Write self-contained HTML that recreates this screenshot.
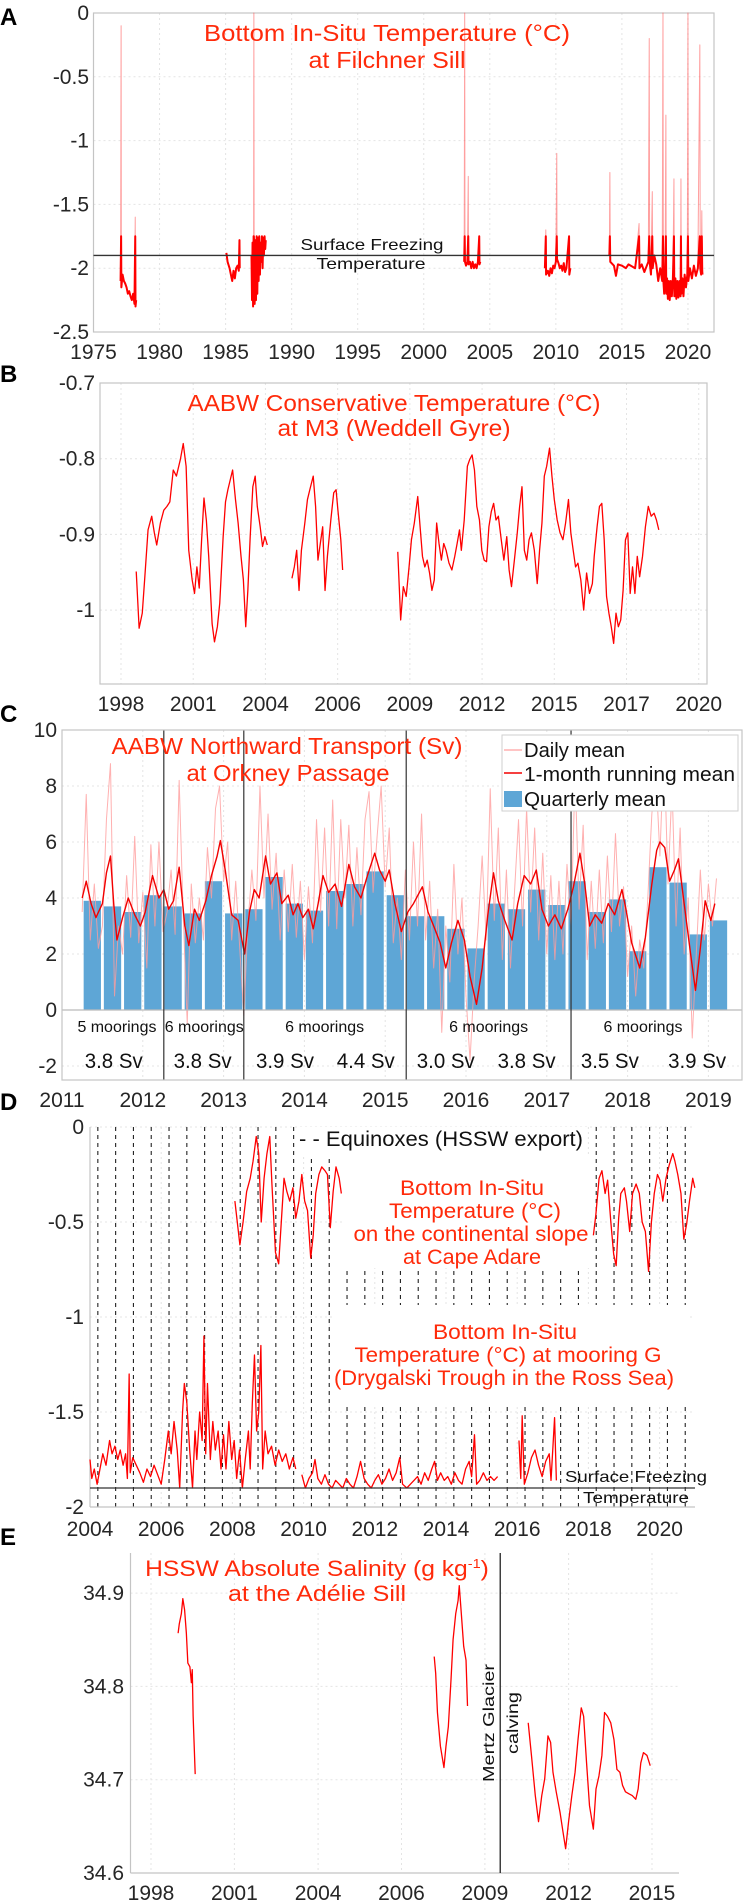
<!DOCTYPE html>
<html><head><meta charset="utf-8">
<style>
html,body{margin:0;padding:0;background:#fff;}
svg{display:block;font-family:"Liberation Sans",Arial,sans-serif;}
</style></head>
<body>
<svg id="fig" xmlns="http://www.w3.org/2000/svg" width="744" height="1901" viewBox="0 0 744 1901"></svg>
<script>
// ---------- Panel A data (year, temperature °C) ----------
const aSeg1 = [[1977.05,-2.1],[1977.09,-0.1],[1977.11,-2.15],[1977.2,-2.05],[1977.3,-2.1],[1977.4,-2.12],[1977.5,-2.15],[1977.6,-2.2],[1977.7,-2.18],[1977.8,-2.22],[1977.9,-2.25],[1978.0,-2.2],[1978.1,-2.28],[1978.16,-1.6],[1978.18,-2.3],[1978.23,-2.25]];
const aSeg2 = [[1985.06,-1.88],[1985.15,-1.95],[1985.3,-2.0],[1985.4,-2.05],[1985.5,-2.1],[1985.6,-2.02],[1985.7,-2.08],[1985.8,-2.0],[1985.9,-1.98],[1986.0,-2.02],[1986.05,-1.78],[1986.07,-2.0]];
const aSeg3 = [[1986.96,-1.9],[1987.0,-2.25],[1987.04,-1.8],[1987.08,-2.3],[1987.12,-1.75],[1987.14,0],[1987.16,-1.8],[1987.2,-2.28],[1987.25,-1.78],[1987.3,-2.25],[1987.35,-1.75],[1987.4,-2.2],[1987.45,-1.76],[1987.5,-2.1],[1987.55,-1.75],[1987.6,-2.05],[1987.65,-1.8],[1987.7,-1.95],[1987.75,-1.75],[1987.8,-2.0],[1987.85,-1.76],[1987.9,-1.9],[1987.95,-1.75],[1988.0,-1.85],[1988.04,-1.78]];
const aSeg4 = [[2003.06,-1.95],[2003.1,0],[2003.12,-1.95],[2003.2,-1.98],[2003.3,-1.95],[2003.37,-1.28],[2003.39,-1.97],[2003.5,-1.95],[2003.6,-2.0],[2003.7,-1.95],[2003.8,-2.0],[2003.9,-1.97],[2004.0,-2.0],[2004.1,-1.95],[2004.2,-1.75],[2004.22,-1.97],[2004.28,-1.95]];
const aSeg5 = [[2009.17,-2.0],[2009.24,-1.7],[2009.26,-2.05],[2009.4,-2.02],[2009.5,-2.06],[2009.6,-2.0],[2009.7,-2.04],[2009.8,-1.98],[2009.9,-2.0],[2010.0,-1.95],[2010.07,-1.1],[2010.09,-1.93],[2010.2,-1.96],[2010.3,-2.0],[2010.4,-1.98],[2010.5,-2.02],[2010.6,-1.96],[2010.7,-2.03],[2010.8,-2.0],[2011.0,-1.75],[2011.02,-2.05],[2011.1,-2.0]];
const aSeg6 = [[2014.05,-1.9],[2014.09,-1.25],[2014.12,-1.95],[2014.4,-1.98],[2014.55,-2.06],[2014.7,-1.97],[2015.0,-1.98],[2015.3,-2.0],[2015.5,-1.97],[2016.0,-2.0],[2016.3,-1.65],[2016.33,-2.0],[2016.5,-1.97],[2016.7,-2.03],[2017.0,-1.95],[2017.07,-0.2],[2017.1,-1.95],[2017.2,-2.05],[2017.3,-1.4],[2017.33,-2.0],[2017.45,-1.9],[2017.6,-1.97],[2017.75,-2.1],[2017.9,-2.0],[2018.05,-2.1],[2018.11,0.0],[2018.14,-2.1],[2018.2,-2.2],[2018.27,-2.05],[2018.33,-0.8],[2018.36,-2.2],[2018.42,-2.08],[2018.48,-2.24],[2018.55,-2.1],[2018.62,-2.25],[2018.7,-2.1],[2018.78,-2.22],[2018.86,-2.08],[2018.94,-1.3],[2018.97,-2.22],[2019.05,-2.08],[2019.12,-2.24],[2019.2,-2.1],[2019.28,-2.23],[2019.36,-2.1],[2019.44,-2.22],[2019.47,-1.3],[2019.5,-2.2],[2019.58,-2.08],[2019.66,-2.22],[2019.75,-2.05],[2019.85,-2.15],[2019.95,-2.05],[2020.0,0.0],[2020.03,-2.1],[2020.15,-2.0],[2020.3,-2.08],[2020.45,-1.98],[2020.6,-2.06],[2020.75,-2.0],[2020.9,-0.25],[2020.93,-2.0],[2021.0,-2.05],[2021.05,-1.55],[2021.08,-2.02],[2021.1,-2.05]];
const aSegments = [aSeg1,aSeg2,aSeg3,aSeg4,aSeg5,aSeg6];
const aXTicks = [1975,1980,1985,1990,1995,2000,2005,2010,2015,2020];
const aYTicks = [0,-0.5,-1,-1.5,-2,-2.5];
const aYTickLabels = ['0','-0.5','-1','-1.5','-2','-2.5'];
const aFreezing = -1.9;

// ---------- Panel B data ----------
const bSeg1 = [[1998.58,-0.949],[1998.69,-1.024],[1998.81,-1.004],[1998.90,-0.960],[1999.03,-0.894],[1999.17,-0.876],[1999.27,-0.898],[1999.36,-0.914],[1999.50,-0.885],[1999.63,-0.868],[1999.75,-0.863],[1999.86,-0.857],[1999.99,-0.815],[2000.11,-0.823],[2000.26,-0.801],[2000.37,-0.780],[2000.48,-0.810],[2000.58,-0.921],[2000.71,-0.960],[2000.80,-0.978],[2000.89,-0.943],[2000.98,-0.971],[2001.07,-0.907],[2001.16,-0.852],[2001.25,-0.881],[2001.34,-0.929],[2001.47,-1.018],[2001.56,-1.042],[2001.67,-1.022],[2001.76,-0.991],[2001.89,-0.903],[2001.98,-0.857],[2002.07,-0.841],[2002.16,-0.828],[2002.25,-0.815],[2002.36,-0.854],[2002.46,-0.885],[2002.57,-0.929],[2002.66,-0.960],[2002.75,-1.022],[2002.83,-0.974],[2002.92,-0.903],[2003.02,-0.837],[2003.11,-0.823],[2003.19,-0.863],[2003.30,-0.890],[2003.39,-0.916],[2003.48,-0.903],[2003.57,-0.914]];
const bSeg2 = [[2004.51,-0.958],[2004.60,-0.943],[2004.69,-0.921],[2004.78,-0.974],[2004.87,-0.921],[2005.00,-0.885],[2005.10,-0.854],[2005.19,-0.841],[2005.32,-0.823],[2005.41,-0.863],[2005.50,-0.934],[2005.59,-0.912],[2005.68,-0.890],[2005.77,-0.974],[2005.86,-0.929],[2005.99,-0.881],[2006.10,-0.845],[2006.19,-0.841],[2006.26,-0.868],[2006.37,-0.907],[2006.44,-0.947]];
const bSeg3 = [[2008.54,-0.923],[2008.65,-1.013],[2008.75,-0.969],[2008.86,-0.982],[2008.97,-0.943],[2009.06,-0.907],[2009.17,-0.885],[2009.30,-0.850],[2009.39,-0.890],[2009.48,-0.929],[2009.57,-0.943],[2009.66,-0.934],[2009.75,-0.951],[2009.84,-0.974],[2009.93,-0.960],[2010.02,-0.885],[2010.11,-0.912],[2010.20,-0.934],[2010.29,-0.912],[2010.38,-0.921],[2010.49,-0.938],[2010.60,-0.947],[2010.71,-0.929],[2010.80,-0.912],[2010.89,-0.894],[2010.96,-0.921],[2011.07,-0.881],[2011.19,-0.810],[2011.28,-0.801],[2011.37,-0.795],[2011.46,-0.815],[2011.55,-0.863],[2011.65,-0.881],[2011.74,-0.921],[2011.83,-0.934],[2011.92,-0.936],[2012.01,-0.890],[2012.10,-0.870],[2012.19,-0.859],[2012.28,-0.881],[2012.37,-0.876],[2012.48,-0.907],[2012.58,-0.934],[2012.69,-0.903],[2012.78,-0.947],[2012.87,-0.969],[2012.98,-0.934],[2013.09,-0.898],[2013.18,-0.863],[2013.27,-0.837],[2013.36,-0.921],[2013.45,-0.934],[2013.54,-0.907],[2013.63,-0.898],[2013.74,-0.921],[2013.85,-0.965],[2013.94,-0.921],[2014.03,-0.885],[2014.12,-0.823],[2014.21,-0.810],[2014.32,-0.786],[2014.41,-0.823],[2014.50,-0.854],[2014.61,-0.881],[2014.72,-0.898],[2014.83,-0.907],[2014.93,-0.885],[2015.04,-0.854],[2015.13,-0.898],[2015.22,-0.921],[2015.31,-0.943],[2015.40,-0.938],[2015.51,-0.960],[2015.62,-1.000],[2015.73,-0.951],[2015.84,-0.978],[2015.95,-0.965],[2016.02,-0.929],[2016.13,-0.890],[2016.22,-0.863],[2016.31,-0.859],[2016.40,-0.907],[2016.49,-0.982],[2016.58,-1.004],[2016.67,-1.022],[2016.76,-1.044],[2016.85,-1.004],[2016.94,-1.022],[2017.03,-1.013],[2017.12,-0.974],[2017.21,-0.907],[2017.30,-0.898],[2017.39,-0.978],[2017.48,-0.943],[2017.57,-0.978],[2017.66,-0.929],[2017.75,-0.956],[2017.86,-0.929],[2017.97,-0.890],[2018.08,-0.863],[2018.19,-0.876],[2018.30,-0.872],[2018.39,-0.881],[2018.48,-0.894]];
const bSegments = [bSeg1,bSeg2,bSeg3];
const bXTicks = [1998,2000.75,2003.5,2006.25,2009,2011.75,2014.5,2017.25,2020];
const bXTickLabels = ['1998','2001','2004','2006','2009','2012','2015','2017','2020'];
const bYTicks = [-0.7,-0.8,-0.9,-1];
const bYTickLabels = ['-0.7','-0.8','-0.9','-1'];

// ---------- Panel C data ----------
const cQuarterStart = 2011.25;
const cQuarterly = [3.9,3.7,3.5,4.1,3.7,3.45,4.6,3.45,3.6,4.75,3.8,3.55,4.25,4.5,4.95,4.1,3.35,3.35,2.9,2.2,3.8,3.6,4.3,3.75,4.6,3.5,3.95,2.1,5.1,4.55,2.7,3.2];
const cDailyStart = 2011.25;
const cDailyStep = 0.05;
const cDaily = [3.5,7.7,2.5,4.5,2.2,3.0,6.8,8.8,0.5,3.0,
 2.0,4.8,2.6,6.2,2.4,4.2,1.5,5.9,3.0,6.0,
 2.8,3.5,5.0,2.7,8.2,3.4,-0.5,4.5,2.4,4.0,
 2.5,5.8,4.0,7.2,8.0,4.6,6.0,2.5,4.6,2.2,
 -0.2,3.0,5.0,3.2,8.0,4.0,7.0,3.6,5.6,2.5,
 5.0,2.8,5.2,2.6,4.6,1.8,4.4,2.4,6.8,3.5,
 6.5,3.0,7.5,2.9,6.8,4.0,6.6,3.0,5.8,3.4,
 6.8,7.8,4.2,6.2,8.0,4.4,6.5,2.4,4.0,1.8,
 5.0,2.5,6.0,3.0,7.0,2.5,4.6,1.5,3.6,-0.8,
 3.0,1.0,5.2,2.0,4.0,0.5,-1.8,1.0,3.0,5.5,
 2.5,7.9,3.2,6.5,1.8,5.0,1.5,4.2,6.8,3.0,
 7.2,3.5,6.5,2.5,5.6,2.0,4.8,1.8,4.6,2.0,
 5.2,3.0,8.5,3.6,6.6,1.8,4.6,2.2,5.0,2.4,
 5.5,2.8,6.3,3.0,4.4,1.2,3.0,0.5,2.5,1.5,
 4.0,7.0,8.5,5.5,9.5,4.5,8.0,3.0,6.5,2.0,
 4.0,-1.0,2.0,5.0,2.5,4.5,3.0,4.7];
const cMonthly = [[2011.25,4.0],[2011.3,4.6],[2011.36,3.8],[2011.42,3.3],[2011.5,3.8],[2011.55,4.9],[2011.6,5.5],[2011.64,3.8],[2011.68,2.5],[2011.75,3.3],[2011.82,4.0],[2011.9,3.4],[2011.97,3.0],[2012.03,3.5],[2012.12,4.8],[2012.2,4.0],[2012.26,4.3],[2012.32,3.6],[2012.38,3.9],[2012.45,5.1],[2012.52,3.0],[2012.57,2.3],[2012.64,3.6],[2012.7,3.2],[2012.78,3.9],[2012.85,4.8],[2012.92,5.5],[2012.96,6.05],[2013.02,5.0],[2013.1,3.4],[2013.18,3.2],[2013.26,2.0],[2013.32,3.5],[2013.38,4.3],[2013.44,4.0],[2013.52,5.5],[2013.58,4.5],[2013.66,4.9],[2013.72,3.8],[2013.8,4.1],[2013.86,3.4],[2013.92,3.8],[2013.98,3.3],[2014.05,3.6],[2014.11,2.9],[2014.17,3.8],[2014.23,4.8],[2014.3,4.2],[2014.38,4.5],[2014.46,3.7],[2014.55,5.2],[2014.62,4.4],[2014.7,4.0],[2014.78,4.8],[2014.87,5.6],[2014.93,5.0],[2015.0,4.6],[2015.05,5.0],[2015.12,3.8],[2015.2,2.8],[2015.28,3.5],[2015.35,3.8],[2015.46,4.4],[2015.53,3.5],[2015.6,3.0],[2015.68,2.4],[2015.75,1.5],[2015.82,2.4],[2015.9,3.2],[2015.98,2.5],[2016.05,1.2],[2016.13,0.2],[2016.2,1.5],[2016.27,3.4],[2016.34,4.9],[2016.4,3.9],[2016.48,3.2],[2016.57,2.5],[2016.64,3.8],[2016.72,4.8],[2016.8,4.5],[2016.87,5.0],[2016.94,3.6],[2017.02,3.0],[2017.1,3.4],[2017.18,2.9],[2017.26,3.6],[2017.33,4.4],[2017.41,5.6],[2017.47,4.5],[2017.53,3.0],[2017.6,3.4],[2017.68,3.1],[2017.76,3.8],[2017.84,3.4],[2017.93,4.3],[2017.98,3.6],[2018.05,2.4],[2018.15,1.5],[2018.22,2.6],[2018.3,4.5],[2018.36,5.7],[2018.4,6.0],[2018.46,5.8],[2018.52,4.6],[2018.58,5.0],[2018.63,5.4],[2018.7,3.8],[2018.78,2.0],[2018.84,0.7],[2018.9,2.2],[2018.96,3.9],[2019.03,3.2],[2019.08,3.8]];
const cDeployments = [2012.26,2013.25,2015.26,2017.3];
const cMooringLabels = ['5 moorings','6 moorings','6 moorings','6 moorings','6 moorings'];
const cMooringYears = [2011.68,2012.76,2014.25,2016.28,2018.19];
const cSvLabels = ['3.8 Sv','3.8 Sv','3.9 Sv','4.4 Sv','3.0 Sv','3.8 Sv','3.5 Sv','3.9 Sv'];
const cSvYears = [2011.64,2012.74,2013.76,2014.76,2015.75,2016.75,2017.78,2018.86];
const cXTicks = [2011,2012,2013,2014,2015,2016,2017,2018,2019];
const cYTicks = [10,8,6,4,2,0,-2];

// ---------- Panel D data ----------
const dAdare1 = [[2008.07,-0.39],[2008.21,-0.62],[2008.30,-0.5],[2008.40,-0.34],[2008.50,-0.27],[2008.58,-0.18],[2008.67,-0.05],[2008.74,-0.14],[2008.81,-0.5],[2008.89,-0.27],[2008.97,-0.14],[2009.05,-0.05],[2009.11,-0.3],[2009.21,-0.66],[2009.30,-0.72],[2009.38,-0.48],[2009.45,-0.27],[2009.53,-0.34],[2009.61,-0.39],[2009.70,-0.32],[2009.78,-0.48],[2009.87,-0.39],[2009.95,-0.25],[2010.03,-0.39],[2010.11,-0.44],[2010.20,-0.69],[2010.27,-0.57],[2010.34,-0.35],[2010.43,-0.25],[2010.51,-0.21],[2010.60,-0.23],[2010.67,-0.25],[2010.75,-0.53],[2010.83,-0.34],[2010.91,-0.21],[2011.00,-0.27],[2011.06,-0.35]];
const dAdare2 = [[2018.14,-0.57],[2018.21,-0.46],[2018.30,-0.27],[2018.38,-0.23],[2018.47,-0.35],[2018.54,-0.28],[2018.63,-0.5],[2018.71,-0.67],[2018.78,-0.73],[2018.85,-0.48],[2018.91,-0.35],[2019.01,-0.32],[2019.07,-0.39],[2019.16,-0.55],[2019.24,-0.35],[2019.34,-0.3],[2019.43,-0.35],[2019.51,-0.5],[2019.60,-0.55],[2019.69,-0.76],[2019.77,-0.5],[2019.85,-0.35],[2019.94,-0.25],[2020.01,-0.28],[2020.09,-0.39],[2020.18,-0.27],[2020.27,-0.2],[2020.37,-0.14],[2020.43,-0.18],[2020.51,-0.25],[2020.60,-0.35],[2020.68,-0.59],[2020.76,-0.51],[2020.84,-0.39],[2020.93,-0.27],[2020.99,-0.32]];
const dMooringG1 = [[2004.0,-1.75],[2004.05,-1.85],[2004.12,-1.8],[2004.2,-1.88],[2004.28,-1.8],[2004.36,-1.72],[2004.45,-1.78],[2004.55,-1.65],[2004.62,-1.72],[2004.7,-1.68],[2004.78,-1.75],[2004.85,-1.7],[2004.93,-1.78],[2005.0,-1.72],[2005.05,-1.85],[2005.1,-1.3],[2005.13,-1.82],[2005.2,-1.74],[2005.3,-1.78],[2005.4,-1.82],[2005.5,-1.87],[2005.6,-1.8],[2005.7,-1.84],[2005.8,-1.78],[2005.9,-1.83],[2006.0,-1.88],[2006.1,-1.75],[2006.2,-1.6],[2006.28,-1.72],[2006.36,-1.55],[2006.45,-1.7],[2006.52,-1.9],[2006.6,-1.5],[2006.65,-1.35],[2006.72,-1.45],[2006.8,-1.7],[2006.88,-1.9],[2006.95,-1.6],[2007.0,-1.75],[2007.08,-1.5],[2007.15,-1.65],[2007.2,-1.1],[2007.25,-1.72],[2007.3,-1.35],[2007.38,-1.75],[2007.45,-1.55],[2007.52,-1.7],[2007.6,-1.6],[2007.68,-1.8],[2007.75,-1.62],[2007.82,-1.8],[2007.9,-1.55],[2007.98,-1.75],[2008.05,-1.65],[2008.12,-1.85],[2008.2,-1.7],[2008.28,-1.9],[2008.36,-1.75],[2008.45,-1.6],[2008.5,-1.8],[2008.56,-1.45],[2008.62,-1.2],[2008.68,-1.6],[2008.74,-1.5],[2008.8,-1.15],[2008.85,-1.8],[2008.92,-1.6],[2009.0,-1.72],[2009.1,-1.68],[2009.2,-1.78],[2009.3,-1.7],[2009.4,-1.76],[2009.5,-1.72],[2009.6,-1.8],[2009.7,-1.74],[2009.78,-1.8]];
const dMooringG2 = [[2009.95,-1.83],[2010.05,-1.9],[2010.15,-1.85],[2010.25,-1.82],[2010.32,-1.75],[2010.4,-1.85],[2010.5,-1.88],[2010.6,-1.83],[2010.7,-1.88],[2010.8,-1.9],[2010.9,-1.86],[2011.0,-1.88],[2011.1,-1.9],[2011.2,-1.85],[2011.3,-1.88],[2011.4,-1.9],[2011.5,-1.84],[2011.6,-1.76],[2011.7,-1.85],[2011.8,-1.88],[2011.9,-1.9],[2012.0,-1.86],[2012.1,-1.83],[2012.2,-1.88],[2012.3,-1.85],[2012.4,-1.8],[2012.5,-1.86],[2012.6,-1.82],[2012.7,-1.74],[2012.78,-1.88],[2012.9,-1.9],[2013.0,-1.88],[2013.1,-1.86],[2013.2,-1.84],[2013.3,-1.88],[2013.4,-1.82],[2013.5,-1.86],[2013.6,-1.8],[2013.68,-1.76],[2013.76,-1.86],[2013.85,-1.82],[2013.95,-1.86],[2014.05,-1.84],[2014.15,-1.88],[2014.25,-1.82],[2014.35,-1.86],[2014.45,-1.88],[2014.55,-1.8],[2014.65,-1.76],[2014.72,-1.84],[2014.8,-1.62],[2014.86,-1.88],[2014.95,-1.86],[2015.05,-1.82],[2015.15,-1.86],[2015.25,-1.84],[2015.35,-1.86],[2015.45,-1.84]];
const dMooringG3 = [[2016.05,-1.65],[2016.1,-1.85],[2016.14,-1.52],[2016.2,-1.88],[2016.3,-1.82],[2016.4,-1.74],[2016.5,-1.7],[2016.6,-1.78],[2016.7,-1.84],[2016.8,-1.76],[2016.9,-1.72],[2016.95,-1.86],[2017.05,-1.53],[2017.1,-1.86]];
const dSegments = [dAdare1,dAdare2,dMooringG1,dMooringG2,dMooringG3];
const dEquinoxFirst = 2004.22;
const dEquinoxCount = 34;
const dXTicks = [2004,2006,2008,2010,2012,2014,2016,2018,2020];
const dYTicks = [0,-0.5,-1,-1.5,-2];
const dYTickLabels = ['0','-0.5','-1','-1.5','-2'];
const dFreezing = -1.9;

// ---------- Panel E data ----------
const eSeg1 = [[1998.92,34.857],[1998.96,34.867],[1999.03,34.878],[1999.08,34.894],[1999.14,34.882],[1999.2,34.857],[1999.25,34.825],[1999.32,34.821],[1999.37,34.804],[1999.4,34.818],[1999.43,34.768],[1999.5,34.706]];
const eSeg2 = [[2007.61,34.832],[2007.66,34.814],[2007.72,34.772],[2007.82,34.736],[2007.94,34.713],[2008.01,34.736],[2008.09,34.757],[2008.18,34.807],[2008.25,34.850],[2008.34,34.878],[2008.42,34.892],[2008.46,34.908],[2008.53,34.878],[2008.61,34.843],[2008.69,34.828],[2008.74,34.779]];
const eSeg3 = [[2010.80,34.761],[2010.91,34.726],[2011.04,34.683],[2011.15,34.655],[2011.26,34.683],[2011.36,34.701],[2011.47,34.747],[2011.56,34.740],[2011.64,34.708],[2011.75,34.687],[2011.88,34.665],[2011.98,34.644],[2012.07,34.626],[2012.17,34.655],[2012.28,34.683],[2012.39,34.708],[2012.49,34.743],[2012.6,34.777],[2012.68,34.768],[2012.78,34.718],[2012.88,34.672],[2013.01,34.647],[2013.1,34.690],[2013.2,34.704],[2013.3,34.726],[2013.39,34.772],[2013.49,34.768],[2013.6,34.761],[2013.71,34.743],[2013.81,34.711],[2013.91,34.708],[2014.0,34.694],[2014.1,34.687],[2014.21,34.685],[2014.33,34.683],[2014.45,34.679],[2014.53,34.690],[2014.62,34.718],[2014.71,34.729],[2014.83,34.726],[2014.94,34.715]];
const eSegments = [eSeg1,eSeg2,eSeg3];
const eCalving = 2009.85;
const eXTicks = [1998,2000.83,2003.67,2006.5,2009.33,2012.17,2015];
const eXTickLabels = ['1998','2001','2004','2006','2009','2012','2015'];
const eYTicks = [34.9,34.8,34.7,34.6];

// ---------- drawing helpers ----------
const NS = 'http://www.w3.org/2000/svg';
const svg = document.getElementById('fig');
const RED = '#ff0000';
const TITLE = '#ff2a0a';
const GRID = '#e4e4e4';
const FRAME = '#c4c4c4';

function mk(tag, attrs, name, parent) {
  const el = document.createElementNS(NS, tag);
  for (const k in attrs) el.setAttribute(k, attrs[k]);
  
  
  (parent || svg).appendChild(el);
  return el;
}
function line(x1,y1,x2,y2,stroke,w,name,dash,parent){
  const a = {x1:x1,y1:y1,x2:x2,y2:y2,stroke:stroke,'stroke-width':w};
  if (dash) a['stroke-dasharray'] = dash;
  return mk('line', a, name, parent);
}
function rect(x,y,w,h,fill,name,stroke){
  const a = {x:x,y:y,width:w,height:h,fill:fill};
  if (stroke){a.stroke=stroke;a['stroke-width']=1;}
  return mk('rect', a, name);
}
function text(x,y,s,o,name){
  o = o || {};
  const a = {x:x,y:y,'font-size':o.size||21,fill:o.fill||'#262626','text-anchor':o.anchor||'middle'};
  if (o.len){a.textLength=o.len;a.lengthAdjust='spacingAndGlyphs';}
  if (o.weight) a['font-weight']=o.weight;
  if (o.rot) a.transform='rotate('+o.rot+' '+x+' '+y+')';
  const el = mk('text', a, name);
  el.textContent = s;
  return el;
}
function path(pts, sx, sy, stroke, w, name, op){
  let d = '';
  pts.forEach((p,i)=>{ d += (i?'L':'M') + sx(p[0]).toFixed(2) + ' ' + sy(p[1]).toFixed(2); });
  const a = {d:d, fill:'none', stroke:stroke, 'stroke-width':w, 'stroke-linejoin':'round'};
  if (op!==undefined) a['stroke-opacity']=op;
  return mk('path', a, name);
}
function frame(l,t,r,b,name){
  mk('rect',{x:l,y:t,width:r-l,height:b-t,fill:'none',stroke:FRAME,'stroke-width':1.2},name);
}

// ---------- Panel A ----------
const axA = {l:93.5,r:714,t:13,b:332};
const xA = y => 93.5 + (y-1975)*13.21;
const yA = v => 13 + (0-v)*127.6;
text(0,25,'A',{size:24,weight:'bold',anchor:'start',fill:'#000'},'panel-a-label');
aXTicks.forEach(t=>{ line(xA(t),axA.t,xA(t),axA.b,GRID,1,'a-x-grid','2,3'); });
aYTicks.forEach(t=>{ line(axA.l,yA(t),axA.r,yA(t),GRID,1,'a-y-grid','2,3'); });
frame(axA.l,axA.t,axA.r,axA.b,'a-axes-frame');
aXTicks.forEach(t=>{ text(xA(t),359,String(t),{size:21},'a-x-tick-label'); });
aYTicks.forEach((t,i)=>{ text(89,yA(t)+7,aYTickLabels[i],{size:21,anchor:'end'},'a-y-tick-label'); });
aSegments.forEach(s=>{ path(s,xA,yA,'#ff5050',1,'a-temperature-raw',0.55); });
aSegments.forEach(s=>{ path(s.map(p=>[p[0],Math.min(p[1],-1.75)]),xA,yA,RED,2,'a-temperature'); });
line(axA.l,yA(aFreezing),axA.r,yA(aFreezing),'#333',1.3,'a-freezing-line');
text(372,250,'Surface Freezing',{size:16,len:143,fill:'#111'},'a-freezing-label');
text(371,269,'Temperature',{size:16,len:109,fill:'#111'},'a-freezing-label-2');
text(387,41,'Bottom In-Situ Temperature (°C)',{size:23,len:366,fill:TITLE},'a-title');
text(387,68,'at Filchner Sill',{size:23,len:157,fill:TITLE},'a-title-2');

// ---------- Panel B ----------
const axB = {l:100,r:707,t:383,b:684};
const xB = y => 121 + (y-1998)*26.26;
const yB = v => 383 + (-0.7-v)*757;
text(0,382,'B',{size:24,weight:'bold',anchor:'start',fill:'#000'},'panel-b-label');
bXTicks.forEach(t=>{ line(xB(t),axB.t,xB(t),axB.b,GRID,1,'b-x-grid','2,3'); });
bYTicks.forEach(t=>{ line(axB.l,yB(t),axB.r,yB(t),GRID,1,'b-y-grid','2,3'); });
frame(axB.l,axB.t,axB.r,axB.b,'b-axes-frame');
bXTicks.forEach((t,i)=>{ text(xB(t),711,bXTickLabels[i],{size:21},'b-x-tick-label'); });
bYTicks.forEach((t,i)=>{ text(95,yB(t)+7,bYTickLabels[i],{size:21,anchor:'end'},'b-y-tick-label'); });
bSegments.forEach(s=>{ path(s,xB,yB,RED,1.3,'b-temperature'); });
text(394,411,'AABW Conservative Temperature (°C)',{size:23,len:413,fill:TITLE},'b-title');
text(394,436,'at M3 (Weddell Gyre)',{size:23,len:233,fill:TITLE},'b-title-2');

// ---------- Panel C ----------
const axC = {l:62,r:742,t:730,b:1080};
const xC = y => 62 + (y-2011)*80.8;
const yC = v => 1010 - v*28;
text(0,722,'C',{size:24,weight:'bold',anchor:'start',fill:'#000'},'panel-c-label');
cXTicks.forEach(t=>{ line(xC(t),axC.t,xC(t),axC.b,GRID,1,'c-x-grid','2,3'); });
cYTicks.forEach(t=>{ line(axC.l,yC(t),axC.r,yC(t),GRID,1,'c-y-grid','2,3'); });
cQuarterly.forEach((v,i)=>{
  const y0 = cQuarterStart + i*0.25;
  const x0 = xC(y0+0.018), x1 = xC(y0+0.232);
  const r = mk('rect',{x:x0,y:Math.min(yC(v),yC(0)),width:x1-x0,height:Math.abs(yC(v)-yC(0)),fill:'#5ea6d6'},'c-quarterly-bar');
});
const cDailyPts = cDaily.map((v,i)=>[cDailyStart+i*cDailyStep, v]);
path(cDailyPts,xC,yC,'#ff9c9c',1,'c-daily-mean',0.8);
path(cMonthly,xC,yC,'#f20000',1.4,'c-monthly-mean');
line(axC.l,yC(0),axC.r,yC(0),'#bbb',1.2,'c-zero-line');
cDeployments.forEach(t=>{ line(xC(t),axC.t,xC(t),axC.b,'#333',1.2,'c-deployment-line'); });
frame(axC.l,axC.t,axC.r,axC.b,'c-axes-frame');
cXTicks.forEach(t=>{ text(xC(t),1107,String(t),{size:21},'c-x-tick-label'); });
cYTicks.forEach(t=>{ text(57,yC(t)+7,String(t),{size:21,anchor:'end'},'c-y-tick-label'); });
cMooringLabels.forEach((s,i)=>{ text(xC(cMooringYears[i]),1032,s,{size:16,len:79,fill:'#111'},'c-mooring-count'); });
cSvLabels.forEach((s,i)=>{ text(xC(cSvYears[i]),1068,s,{size:21,len:58,fill:'#111'},'c-mean-transport'); });
text(287,754,'AABW Northward Transport (Sv)',{size:23,len:351,fill:TITLE},'c-title');
text(288,781,'at Orkney Passage',{size:23,len:203,fill:TITLE},'c-title-2');
rect(502,735,236,76,'#fff','c-legend-box','#cfcfcf');
line(504,750,522,750,'#ffb0b0',1.5,'c-legend-daily-swatch');
text(524,757,'Daily mean',{size:20,len:101,anchor:'start',fill:'#111'},'c-legend-daily');
line(504,773,522,773,'#f20000',1.5,'c-legend-monthly-swatch');
text(524,781,'1-month running mean',{size:20,len:211,anchor:'start',fill:'#111'},'c-legend-monthly');
rect(504,791,18,16,'#5ea6d6','c-legend-quarterly-swatch');
text(524,806,'Quarterly mean',{size:20,len:142,anchor:'start',fill:'#111'},'c-legend-quarterly');

// ---------- Panel D ----------
const axD = {l:90,r:695,t:1127,b:1507};
const xD = y => 90 + (y-2004)*35.6;
const yD = v => 1127 - v*190;
text(0,1110,'D',{size:24,weight:'bold',anchor:'start',fill:'#000'},'panel-d-label');
dXTicks.forEach(t=>{ line(xD(t),axD.t,xD(t),axD.b,GRID,1,'d-x-grid','2,3'); });
dYTicks.forEach(t=>{ line(axD.l,yD(t),axD.r,yD(t),GRID,1,'d-y-grid','2,3'); });
for (let k=0;k<dEquinoxCount;k++){
  const t = dEquinoxFirst + k*0.5;
  line(xD(t),axD.t,xD(t),axD.b,'#222',1.1,'d-equinox-line','4,4');
}
rect(297,1127,290,28,'#fff','d-legend-box');
rect(345,1155,245,113,'#fff','d-adare-title-box');
rect(332,1305,358,99,'#fff','d-mooring-g-title-box');
line(axD.l,axD.t,axD.l,axD.b,FRAME,1.2,'d-y-axis');
line(axD.l,axD.b,axD.r,axD.b,FRAME,1.2,'d-x-axis');
dSegments.forEach(s=>{ path(s,xD,yD,RED,1.3,'d-temperature'); });
line(axD.l,yD(dFreezing),axD.r,yD(dFreezing),'#333',1.3,'d-freezing-line');
dXTicks.forEach(t=>{ text(xD(t),1536,String(t),{size:21},'d-x-tick-label'); });
dYTicks.forEach((t,i)=>{ text(84,yD(t)+7,dYTickLabels[i],{size:21,anchor:'end'},'d-y-tick-label'); });
text(299,1146,'- - Equinoxes (HSSW export)',{size:21,len:284,anchor:'start',fill:'#111'},'d-legend-equinoxes');
text(472,1195,'Bottom In-Situ',{size:21,len:144,fill:TITLE},'d-adare-title');
text(475,1218,'Temperature (°C)',{size:21,len:172,fill:TITLE},'d-adare-title-2');
text(471,1241,'on the continental slope',{size:21,len:235,fill:TITLE},'d-adare-title-3');
text(472,1264,'at Cape Adare',{size:21,len:138,fill:TITLE},'d-adare-title-4');
text(505,1339,'Bottom In-Situ',{size:21,len:144,fill:TITLE},'d-mooring-g-title');
text(508,1362,'Temperature (°C) at mooring G',{size:21,len:307,fill:TITLE},'d-mooring-g-title-2');
text(504,1385,'(Drygalski Trough in the Ross Sea)',{size:21,len:340,fill:TITLE},'d-mooring-g-title-3');
text(636,1482,'Surface Freezing',{size:16,len:142,fill:'#111'},'d-freezing-label');
text(636,1503,'Temperature',{size:16,len:106,fill:'#111'},'d-freezing-label-2');

// ---------- Panel E ----------
const axE = {l:130.5,r:679,t:1553,b:1873};
const xE = y => 151 + (y-1998)*29.47;
const yE = v => 1873 - (v-34.6)*933;
text(0,1545,'E',{size:24,weight:'bold',anchor:'start',fill:'#000'},'panel-e-label');
eXTicks.forEach(t=>{ line(xE(t),axE.t,xE(t),axE.b,GRID,1,'e-x-grid','2,3'); });
eYTicks.forEach(t=>{ line(axE.l,yE(t),axE.r,yE(t),GRID,1,'e-y-grid','2,3'); });
line(axE.l,axE.t,axE.l,axE.b,FRAME,1.2,'e-y-axis');
line(axE.l,axE.b,axE.r,axE.b,FRAME,1.2,'e-x-axis');
eSegments.forEach(s=>{ path(s,xE,yE,RED,1.3,'e-salinity'); });
line(xE(eCalving),axE.t,xE(eCalving),axE.b,'#222',1.3,'e-calving-line');
eXTicks.forEach((t,i)=>{ text(xE(t),1900,eXTickLabels[i],{size:21},'e-x-tick-label'); });
eYTicks.forEach(t=>{ text(124,yE(t)+7,t.toFixed(1),{size:21,anchor:'end'},'e-y-tick-label'); });
text(494,1723,'Mertz Glacier',{size:16,len:118,fill:'#111',rot:-90},'e-calving-label');
text(518,1723,'calving',{size:16,len:62,fill:'#111',rot:-90},'e-calving-label-2');
const et = text(317,1576,'HSSW Absolute Salinity (g kg',{size:22,fill:TITLE},'e-title');
const sup = document.createElementNS(NS,'tspan');


sup.setAttribute('dy','-8'); sup.setAttribute('font-size','13');
sup.textContent='-1';
et.appendChild(sup);
const cl = document.createElementNS(NS,'tspan');


cl.setAttribute('dy','8');
cl.textContent=')';
et.appendChild(cl);
text(317,1601,'at the Adélie Sill',{size:22,len:178,fill:TITLE},'e-title-2');
// fit E title width
try{ const w = et.getComputedTextLength(); if (w>0){ et.setAttribute('transform','translate(317 0) scale('+(344/w)+' 1) translate(-317 0)'); } }catch(e){}
</script>
</body></html>
